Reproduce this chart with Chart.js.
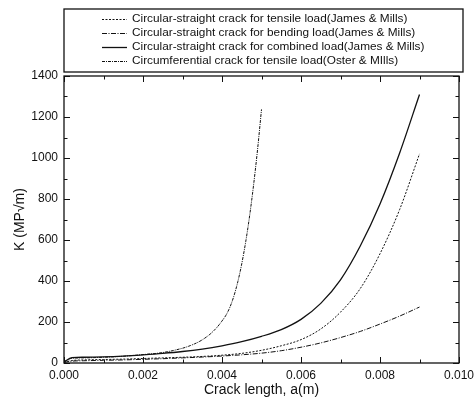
<!DOCTYPE html>
<html>
<head>
<meta charset="utf-8">
<script src="https://cdn.jsdelivr.net/npm/chart.js@4/dist/chart.umd.min.js"></script>
<style>
  html, body { margin: 0; padding: 0; background: #fff; }
  #wrap { width: 474px; height: 408px; position: relative; }
</style>
</head>
<body>
<div id="wrap"><canvas id="c" width="474" height="408"></canvas></div>
<script>
// Crack length a (m) shared by the three James & Mills curves
const crackLength = [0, 0.0002, 0.0005, 0.001, 0.0015, 0.002, 0.0025, 0.003, 0.0035, 0.004, 0.0045,
                     0.005, 0.0055, 0.006, 0.0065, 0.007, 0.0075, 0.008, 0.0085, 0.009];
// Stress intensity factor K (MPa·√m)
const kTensile  = [3, 12, 15, 17, 19, 22, 25, 28, 32, 38, 47, 62, 84, 114, 166, 248, 363, 533, 750, 1020];
const kBending  = [3, 9, 11, 13, 15, 18, 21, 25, 29, 34, 40, 48, 60, 77, 98, 124, 154, 190, 229, 273];
const kCombined = [5, 26, 28, 30, 34, 40, 47, 56, 68, 84, 104, 130, 163, 213, 291, 406, 571, 776, 1026, 1310];

// Circumferential crack (Oster & Mills)
const crackLengthCirc = [0, 0.0002, 0.0005, 0.001, 0.0015, 0.002, 0.0025, 0.003, 0.0031, 0.0032, 0.0033,
                         0.0034, 0.0035, 0.0036, 0.0037, 0.0038, 0.0039, 0.004, 0.0041, 0.0042, 0.0043,
                         0.0044, 0.0045, 0.0046, 0.0047, 0.0048, 0.0049, 0.005];
const kCircumferential = [5, 23, 25, 28, 33, 41, 51, 72, 78, 85, 93, 102, 113, 126, 141, 159, 180, 205,
                          233, 272, 326, 396, 484, 591, 719, 869, 1041, 1237];

const seriesLabels = [
  'Circular-straight crack for tensile load(James & Mills)',
  'Circular-straight crack for bending load(James & Mills)',
  'Circular-straight crack for combined load(James & Mills)',
  'Circumferential crack for tensile load(Oster & MIlls)'
];

const xTickStep = 0.002;
const yTickStep = 200;

const FONT = '"Liberation Sans", Arial, sans-serif';
const INK = '#111';

function pts(xs, ys) { return xs.map((x, i) => ({ x: x, y: ys[i] })); }

// Frame, inward major/minor ticks on all four sides, and the boxed legend
const framePlugin = {
  id: 'frame',
  afterDatasetsDraw(chart) {
    const { ctx, chartArea: a, scales } = chart;
    const xs = scales.x, ys = scales.y;
    ctx.save();
    ctx.strokeStyle = INK;
    ctx.lineWidth = 1.3;
    ctx.strokeRect(a.left, a.top, a.right - a.left, a.bottom - a.top);

    ctx.lineWidth = 1;
    const major = 6, minor = 3.5;
    ctx.beginPath();
    const xt = xs.ticks.map(t => t.value);
    xt.forEach((v, i) => {
      const px = Math.round(xs.getPixelForValue(v)) + 0.5;
      ctx.moveTo(px, a.bottom); ctx.lineTo(px, a.bottom - major);
      ctx.moveTo(px, a.top); ctx.lineTo(px, a.top + major);
      if (i < xt.length - 1) {
        const pm = Math.round(xs.getPixelForValue((v + xt[i + 1]) / 2)) + 0.5;
        ctx.moveTo(pm, a.bottom); ctx.lineTo(pm, a.bottom - minor);
        ctx.moveTo(pm, a.top); ctx.lineTo(pm, a.top + minor);
      }
    });
    const yt = ys.ticks.map(t => t.value);
    yt.forEach((v, i) => {
      const py = Math.round(ys.getPixelForValue(v)) + 0.5;
      ctx.moveTo(a.left, py); ctx.lineTo(a.left + major, py);
      ctx.moveTo(a.right, py); ctx.lineTo(a.right - major, py);
      if (i < yt.length - 1) {
        const pm = Math.round(ys.getPixelForValue((v + yt[i + 1]) / 2)) + 0.5;
        ctx.moveTo(a.left, pm); ctx.lineTo(a.left + minor, pm);
        ctx.moveTo(a.right, pm); ctx.lineTo(a.right - minor, pm);
      }
    });
    ctx.stroke();

    // Legend box above the plot
    const bx = a.left, by = 9, bw = 399, bh = 63;
    ctx.lineWidth = 1.3;
    ctx.strokeRect(bx, by, bw, bh);
    ctx.font = '11.8px ' + FONT;
    ctx.fillStyle = INK;
    ctx.textBaseline = 'middle';
    chart.data.datasets.forEach((ds, i) => {
      const y = 19 + i * 14;
      ctx.beginPath();
      ctx.lineWidth = ds.borderWidth;
      ctx.setLineDash(ds.borderDash || []);
      ctx.moveTo(102, y + 0.5); ctx.lineTo(127, y + 0.5);
      ctx.stroke();
      ctx.setLineDash([]);
      ctx.fillText(ds.label, 132, y);
    });
    ctx.restore();
  }
};

const lineBase = { borderColor: INK, pointRadius: 0, fill: false, tension: 0, cubicInterpolationMode: 'monotone' };

new Chart(document.getElementById('c'), {
  type: 'line',
  data: {
    datasets: [
      Object.assign({ label: seriesLabels[0], data: pts(crackLength, kTensile),  borderWidth: 1, borderDash: [2, 1.5] }, lineBase),
      Object.assign({ label: seriesLabels[1], data: pts(crackLength, kBending),  borderWidth: 1, borderDash: [5, 1.5, 1, 1.5] }, lineBase),
      Object.assign({ label: seriesLabels[2], data: pts(crackLength, kCombined), borderWidth: 1.3 }, lineBase),
      Object.assign({ label: seriesLabels[3], data: pts(crackLengthCirc, kCircumferential), borderWidth: 1, borderDash: [3, 1, 1, 1] }, lineBase)
    ]
  },
  options: {
    responsive: false,
    animation: false,
    devicePixelRatio: 1,
    layout: { padding: { top: 76, right: 15, left: 0, bottom: 0 } },
    plugins: { legend: { display: false }, tooltip: { enabled: false } },
    scales: {
      x: {
        type: 'linear', min: 0, max: 0.01,
        grid: { display: false, drawTicks: false },
        border: { display: false },
        ticks: { stepSize: xTickStep, padding: 5, color: INK, font: { family: FONT, size: 12 },
                 maxRotation: 0, callback: v => v.toFixed(3) },
        title: { display: true, text: 'Crack length, a(m)', color: INK,
                 font: { family: FONT, size: 14 }, padding: { top: 4, bottom: 9 } },
        afterFit(s) { s.height = 45; s.paddingLeft = 0; s.paddingRight = 0; }
      },
      y: {
        type: 'linear', min: 0, max: 1400,
        grid: { display: false, drawTicks: false },
        border: { display: false },
        ticks: { stepSize: yTickStep, padding: 6, color: INK, font: { family: FONT, size: 12 },
                 callback: v => String(v) },
        title: { display: true, text: 'K (MP\u221Am)', color: INK,
                 font: { family: FONT, size: 14 }, padding: { bottom: 0, top: 12 } },
        afterFit(s) { s.width = 64; s.paddingTop = 0; s.paddingBottom = 0; }
      }
    }
  },
  plugins: [framePlugin]
});
</script>
</body>
</html>
